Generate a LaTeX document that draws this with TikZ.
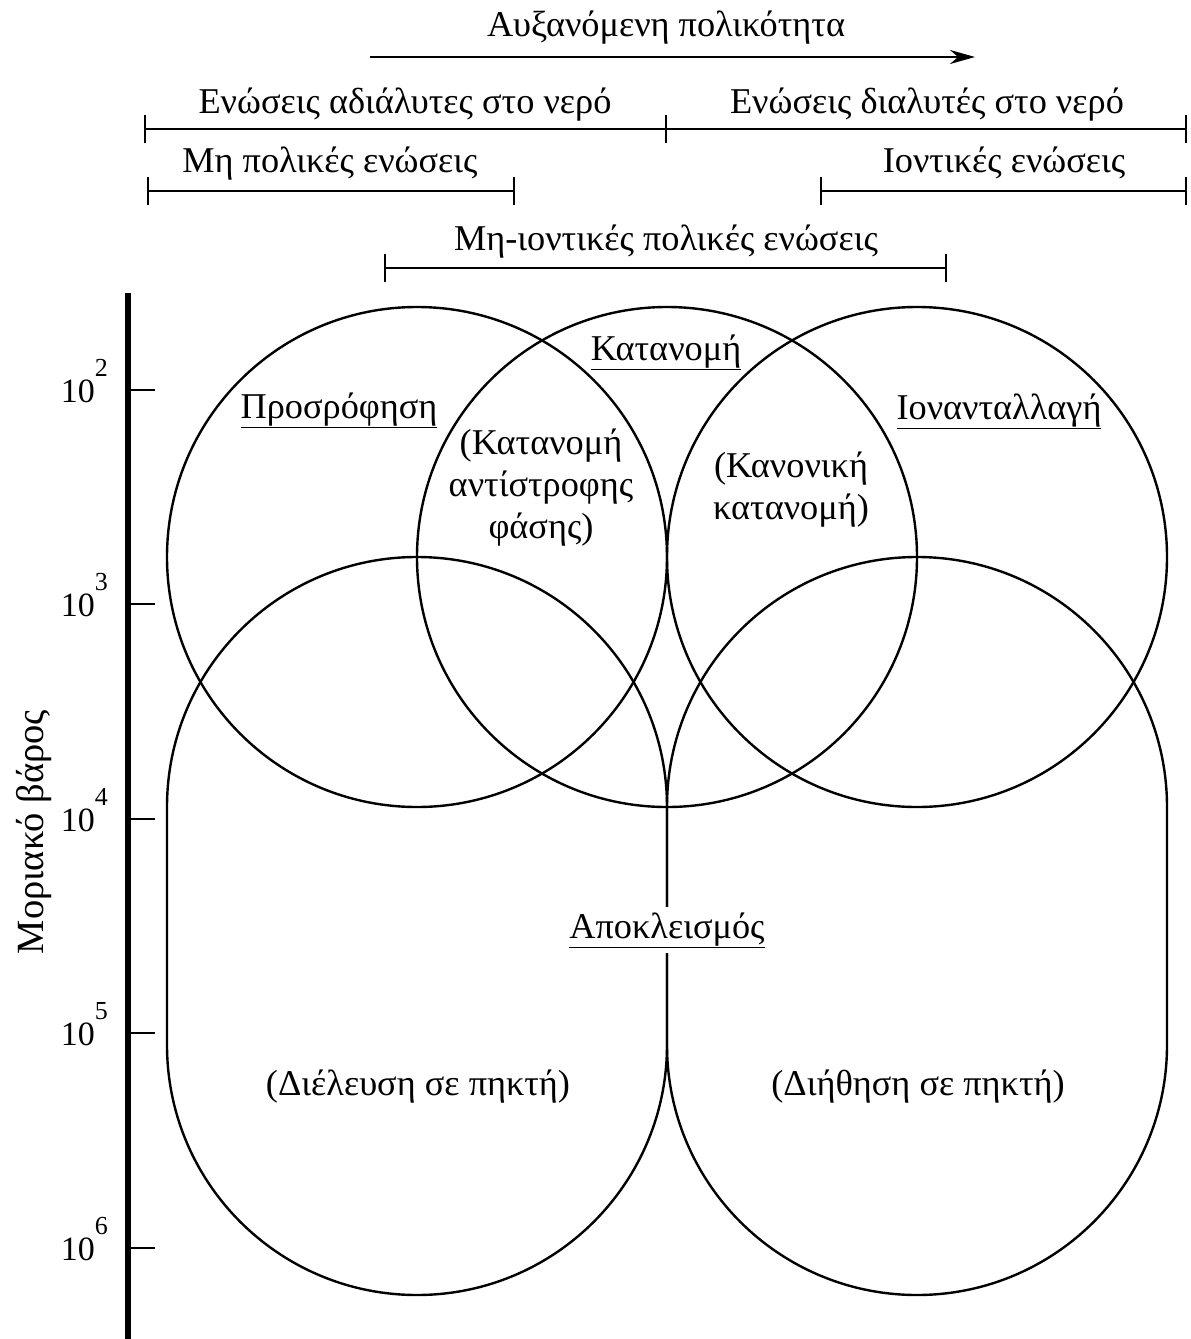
\documentclass[tikz,border=0pt]{standalone}
\usepackage{fontspec}
\setmainfont{Liberation Serif}
\usetikzlibrary{arrows.meta}
\newcommand{\tenpow}[1]{10\raisebox{26pt}{\fontsize{26}{26}\selectfont #1}}
\begin{document}
\begin{tikzpicture}[x=1pt,y=-1pt,line width=2.4pt,
  lbl/.style={inner sep=0pt,anchor=base,font=\fontsize{36.3}{42}\selectfont},
  ticklbl/.style={inner sep=0pt,anchor=base east,font=\fontsize{34}{40}\selectfont},
  brk/.style={line width=2.4pt},
  outl/.style={line width=2.4pt},
  axisln/.style={line width=6pt},
  tickln/.style={line width=2.4pt}]
\useasboundingbox (0,0) rectangle (1191,1339);
% polarity arrow
\node[lbl] (pol) at (666,36) {Αυξανόμενη πολικότητα};
\coordinate (pa) at (370,57);
\coordinate (pb) at (975,57);
\draw[-{Stealth[length=25pt,width=14pt]}] (pa) -- (pb);
% brackets
\node[lbl] (ins) at (405,113) {Ενώσεις αδιάλυτες στο νερό};
\node[lbl] (sol) at (927,113) {Ενώσεις διαλυτές στο νερό};
\draw[brk] (145,129) -- (1186,129);
\draw[brk] (145,115) -- (145,143);
\draw[brk] (666,115) -- (666,143);
\draw[brk] (1186,115) -- (1186,143);
\node[lbl] (np) at (330,172) {Μη πολικές ενώσεις};
\draw[brk] (148,191) -- (514,191);
\draw[brk] (148,177) -- (148,205);
\draw[brk] (514,177) -- (514,205);
\node[lbl] (ion) at (1004,172) {Ιοντικές ενώσεις};
\draw[brk] (821,191) -- (1186,191);
\draw[brk] (821,177) -- (821,205);
\draw[brk] (1186,177) -- (1186,205);
\node[lbl] (nip) at (666,250) {Μη-ιοντικές πολικές ενώσεις};
\draw[brk] (385,268) -- (946,268);
\draw[brk] (385,254) -- (385,282);
\draw[brk] (946,254) -- (946,282);
% axis
\draw[axisln] (128,293) -- (128,1339);
\foreach \yy/\ee in {390/2,604/3,819/4,1033/5,1248/6}{
  \draw[tickln] (128,\yy) -- (155,\yy);
  \node[ticklbl] at (109,\yy+12) {\tenpow{\ee}};
}
\node[lbl,rotate=90,font=\fontsize{38.5}{44}\selectfont] (mw) at (43,832) {Μοριακό βάρος};
% upper circles
\draw[outl] (417,557) circle[radius=250];
\draw[outl] (667,557) circle[radius=250];
\draw[outl] (917,557) circle[radius=250];
% lower shapes
\draw[outl] (167,807) -- (167,1045) arc[start angle=180,end angle=0,radius=250]
  -- (667,807) arc[start angle=0,end angle=-180,radius=250] -- cycle;
\draw[outl] (667,807) -- (667,1045) arc[start angle=180,end angle=0,radius=250]
  -- (1167,807) arc[start angle=0,end angle=-180,radius=250] -- cycle;
% labels
\node[lbl] (ads) at (339,418) {\underline{Προσρόφηση}};
\node[lbl] (part) at (666,360) {\underline{Κατανομή}};
\node[lbl] (iex) at (999,419) {\underline{Ιονανταλλαγή}};
\node[lbl] (rp1) at (541,454) {(Κατανομή};
\node[lbl] (rp2) at (541,496) {αντίστροφης};
\node[lbl] (rp3) at (541,538) {φάσης)};
\node[lbl] (np1) at (791,477) {(Κανονική};
\node[lbl] (np2) at (791,519) {κατανομή)};
\node[lbl,fill=white,inner sep=5pt] (exc) at (667,938) {\underline{Αποκλεισμός}};
\node[lbl] (gpc) at (418,1095) {(Διέλευση σε πηκτή)};
\node[lbl] (gfc) at (918,1095) {(Διήθηση σε πηκτή)};
\end{tikzpicture}
\end{document}
